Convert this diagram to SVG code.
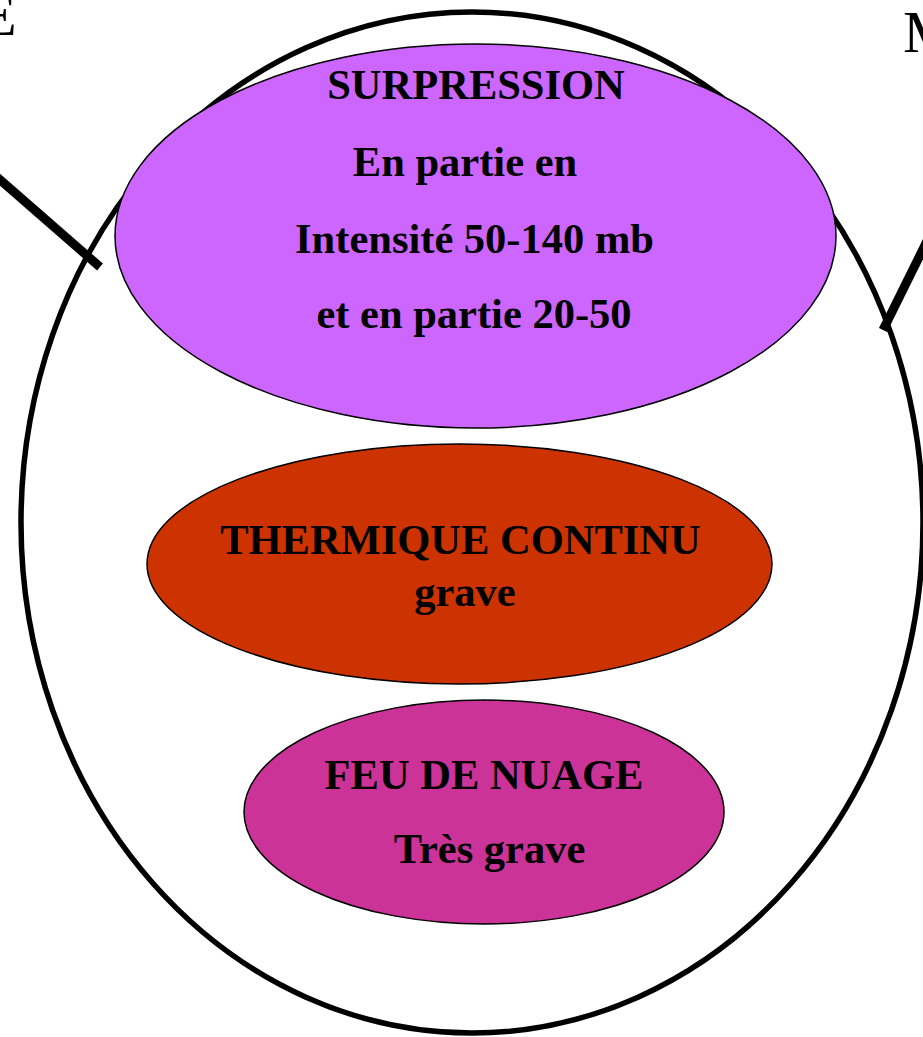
<svg xmlns="http://www.w3.org/2000/svg" width="923" height="1037" viewBox="0 0 923 1037">
<style>
.lbl{font-family:"Liberation Serif","Times New Roman",serif;font-weight:bold;font-size:42.5px;fill:#000;text-anchor:middle}
.edge{font-family:"Liberation Serif","Times New Roman",serif;font-size:60px;fill:#000}
.node{stroke:#000;stroke-width:1.5}
</style>
<rect width="923" height="1037" fill="#fff"/>
<g id="outer">
<ellipse cx="472" cy="522.5" rx="451" ry="510.5" fill="none" stroke="#000" stroke-width="5.5"/>
</g>
<g id="connectors">
<line x1="-10" y1="171" x2="100" y2="267" stroke="#000" stroke-width="9"/>
<line x1="932" y1="231" x2="883" y2="330" stroke="#000" stroke-width="9"/>
</g>
<text class="edge" x="-20" y="35">E</text>
<text class="edge" x="903" y="52">M</text>
<g id="surpression">
<ellipse class="node" cx="475.5" cy="236" rx="360.5" ry="192" fill="#CC66FF"/>
<text class="lbl" x="476" y="99">SURPRESSION</text>
<text class="lbl" x="465" y="176">En partie en</text>
<text class="lbl" x="474.5" y="253">Intensité 50-140 mb</text>
<text class="lbl" x="474" y="328">et en partie 20-50</text>
</g>
<g id="thermique">
<ellipse class="node" cx="459.5" cy="564" rx="312.5" ry="120" fill="#CC3300"/>
<text class="lbl" x="460.5" y="554">THERMIQUE CONTINU</text>
<text class="lbl" x="465" y="606">grave</text>
</g>
<g id="feu">
<ellipse class="node" cx="484" cy="812" rx="240" ry="112" fill="#CC3399"/>
<text class="lbl" x="484" y="789">FEU DE NUAGE</text>
<text class="lbl" x="489.5" y="863">Très grave</text>
</g>
</svg>
